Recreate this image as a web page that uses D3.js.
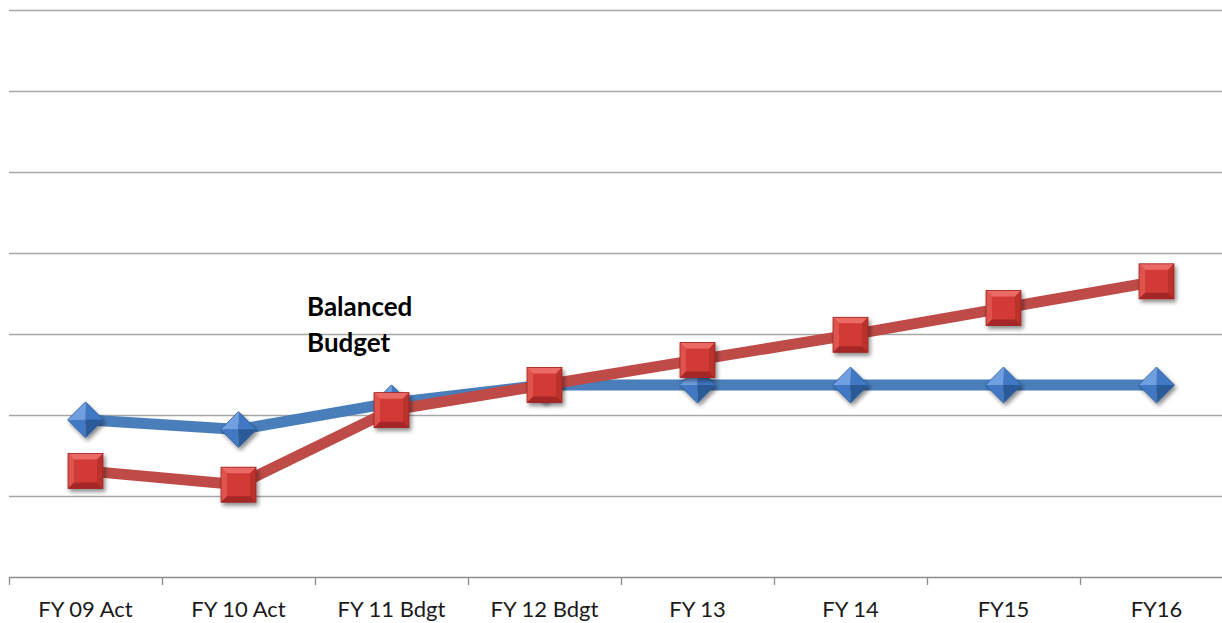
<!DOCTYPE html>
<html>
<head>
<meta charset="utf-8">
<script src="https://cdn.jsdelivr.net/npm/d3@7"></script>
<style>
  html, body { margin: 0; padding: 0; background: #fff; }
  svg { display: block; }
</style>
</head>
<body>
<svg id="chart" width="1222" height="623"></svg>
<script>
// Fiscal years on the category axis
const categories = ["FY 09 Act", "FY 10 Act", "FY 11 Bdgt", "FY 12 Bdgt", "FY 13", "FY 14", "FY15", "FY16"];
// Revenue series (blue diamonds)
const revenue = [1.94, 1.82, 2.15, 2.37, 2.37, 2.37, 2.37, 2.37];
// Expenditure series (red squares)
const expense = [1.31, 1.14, 2.06, 2.37, 2.68, 2.99, 3.32, 3.65];
// Horizontal gridline values
const gridValues = [1, 2, 3, 4, 5, 6, 7];
const annotation = ["Balanced", "Budget"];

(function () {
const svg = d3.select("#chart");
const W = 1222;
const plotLeft = 9, bandW = 153;
const plotTop = 10, plotBottom = 577;

const x = d3.scaleBand().domain(categories).range([plotLeft, plotLeft + bandW * categories.length]).paddingInner(0).paddingOuter(0);
const y = d3.scaleLinear().domain([0, 7]).range([plotBottom, plotTop]);

const defs = svg.append("defs");
const shadow = defs.append("filter").attr("id", "shadow").attr("x", "-40%").attr("y", "-40%").attr("width", "180%").attr("height", "180%");
shadow.append("feGaussianBlur").attr("in", "SourceAlpha").attr("stdDeviation", 2).attr("result", "b");
shadow.append("feOffset").attr("in", "b").attr("dx", 1.5).attr("dy", 2.5).attr("result", "o");
shadow.append("feComponentTransfer").attr("in", "o").attr("result", "s")
  .append("feFuncA").attr("type", "linear").attr("slope", 0.45);
const m = shadow.append("feMerge");
m.append("feMergeNode").attr("in", "s");
m.append("feMergeNode").attr("in", "SourceGraphic");

// Gridlines
svg.append("g").selectAll("line").data(gridValues).join("line")
  .attr("x1", plotLeft).attr("x2", W)
  .attr("y1", d => Math.round(y(d)) + 0.5).attr("y2", d => Math.round(y(d)) + 0.5)
  .attr("stroke", "#a6a6a6").attr("stroke-width", 1.3);

// Category axis
const xAxis = d3.axisBottom(x).tickSize(0).tickPadding(0);
const gx = svg.append("g").attr("transform", `translate(0,${plotBottom + 0.5})`).call(xAxis);
gx.select(".domain").attr("stroke", "#8c8c8c").attr("stroke-width", 1.3).attr("d", `M${plotLeft},0H${W}`);
gx.selectAll(".tick text")
  .attr("y", 39).attr("dy", 0)
  .attr("font-family", "Lato, 'Open Sans', sans-serif").attr("font-size", 22)
  .attr("fill", "#1a1a1a");
// Tick marks on band boundaries
svg.append("g").selectAll("line").data(categories).join("line")
  .attr("x1", d => Math.round(x(d)) + 0.5).attr("x2", d => Math.round(x(d)) + 0.5)
  .attr("y1", plotBottom).attr("y2", plotBottom + 8)
  .attr("stroke", "#8c8c8c").attr("stroke-width", 1.3);

const cx = d => x(d) + x.bandwidth() / 2;
const line = d3.line().x((d, i) => cx(categories[i])).y(d => y(d));

function drawSeries(values, lineColor, kind, base, light, dark) {
  const g = svg.append("g");
  g.append("path").datum(values).attr("d", line)
    .attr("fill", "none").attr("stroke", lineColor).attr("stroke-width", 11)
    .attr("stroke-linejoin", "round");
  const mk = g.selectAll("g.mk").data(values).join("g").attr("class", "mk")
    .attr("transform", (d, i) => `translate(${cx(categories[i])},${y(d)})`)
    .attr("filter", "url(#shadow)");
  if (kind === "square") {
    const s = 17.5, b = 6;
    mk.append("rect").attr("x", -s).attr("y", -s).attr("width", 2 * s).attr("height", 2 * s).attr("fill", base);
    mk.append("path").attr("d", `M${-s},${-s}L${s},${-s}L${s - b},${-s + b}L${-s + b},${-s + b}Z`).attr("fill", light);
    mk.append("path").attr("d", `M${-s},${-s}L${-s + b},${-s + b}L${-s + b},${s - b}L${-s},${s}Z`).attr("fill", light).attr("opacity", 0.5);
    mk.append("path").attr("d", `M${s},${-s}L${s},${s}L${s - b},${s - b}L${s - b},${-s + b}Z`).attr("fill", dark).attr("opacity", 0.45);
    mk.append("path").attr("d", `M${-s},${s}L${s},${s}L${s - b},${s - b}L${-s + b},${s - b}Z`).attr("fill", dark).attr("opacity", 0.85);
    mk.append("rect").attr("x", -s).attr("y", -s).attr("width", 2 * s).attr("height", 2 * s)
      .attr("fill", "none").attr("stroke", dark).attr("stroke-width", 0.8);
  } else {
    const w = 18, h = 18;
    mk.append("path").attr("d", `M0,${-h}L${-w},0L0,0Z`).attr("fill", light);
    mk.append("path").attr("d", `M0,${-h}L${w},0L0,0Z`).attr("fill", base);
    mk.append("path").attr("d", `M${-w},0L0,${h}L0,0Z`).attr("fill", base);
    mk.append("path").attr("d", `M${w},0L0,${h}L0,0Z`).attr("fill", dark);
    mk.append("path").attr("d", `M0,${-h}L${w},0L0,${h}L${-w},0Z`)
      .attr("fill", "none").attr("stroke", dark).attr("stroke-width", 0.8);
  }
}

drawSeries(revenue, "#4a7ebb", "diamond", "#3f78c4", "#6fa0e0", "#2a5a98");
drawSeries(expense, "#be4b48", "square", "#d23a36", "#ec6a66", "#9e2522");

// Annotation
svg.append("text")
  .attr("x", 307).attr("y", 316)
  .attr("font-family", "Lato, 'Open Sans', sans-serif").attr("font-size", 26).attr("font-weight", "bold")
  .attr("fill", "#000")
  .selectAll("tspan").data(annotation).join("tspan")
  .attr("x", 307).attr("dy", (d, i) => i === 0 ? 0 : 36).text(d => d);
})();
</script>
</body>
</html>
